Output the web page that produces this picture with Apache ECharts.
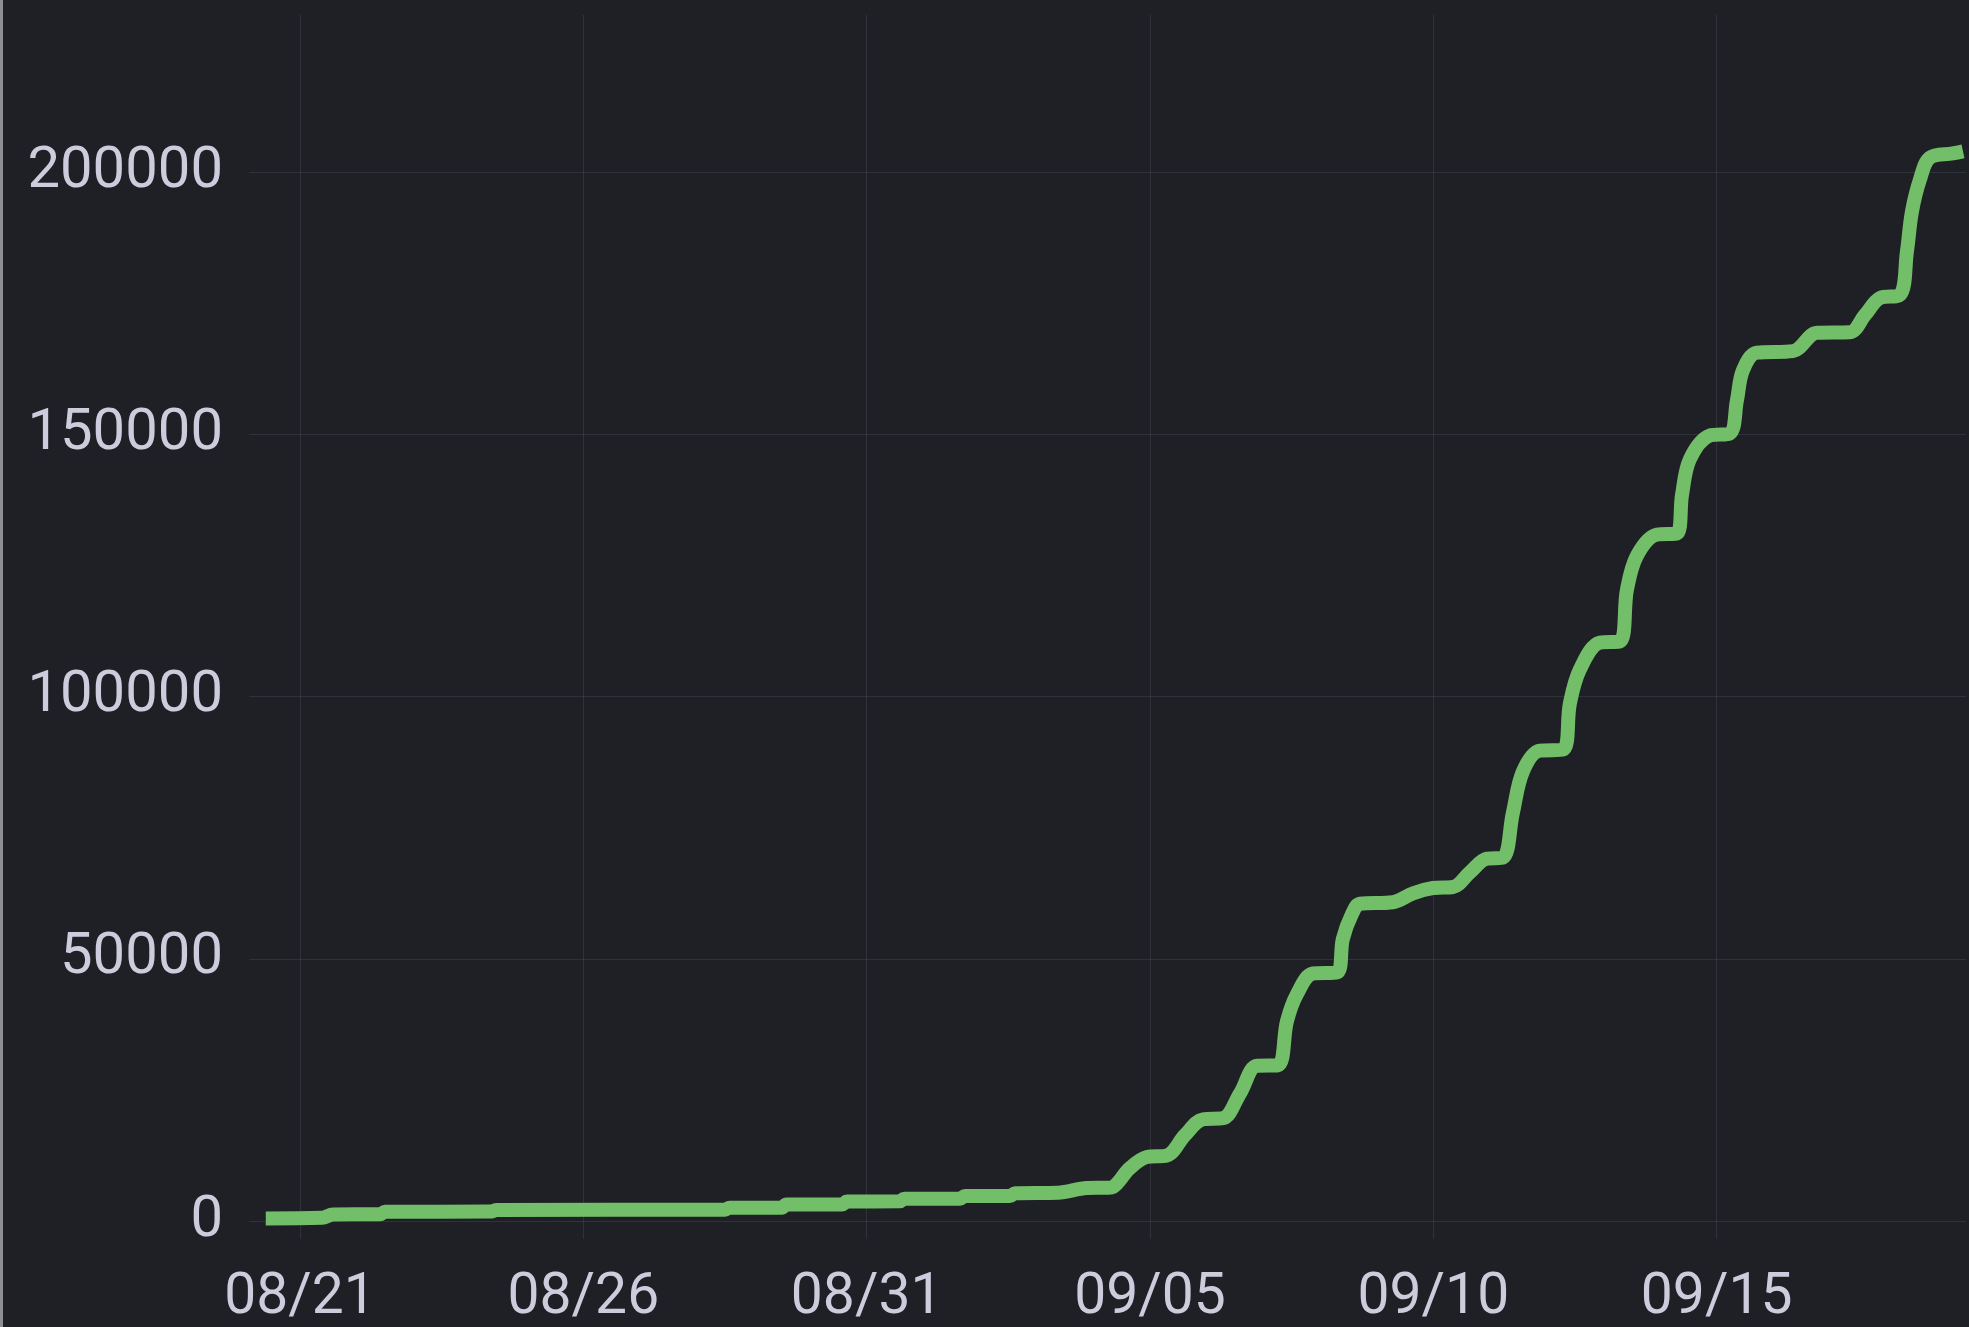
<!DOCTYPE html>
<html>
<head>
<meta charset="utf-8">
<style>
  html, body { margin: 0; padding: 0; background: #1e2026; }
  #chart { width: 1969px; height: 1327px; box-sizing: border-box; border-left: 3px solid #8d8f94; }
</style>
<script src="https://cdn.jsdelivr.net/npm/echarts@6/dist/echarts.min.js"></script>
</head>
<body>
<div id="chart"></div>
<script>
// Cumulative count over ~30 days (MM-DD HH:mm, UTC).
const times = [
  '08-20 09:30', '08-21 09:20', '08-21 14:00', '08-22 09:50', '08-22 12:00',
  '08-24 08:30', '08-24 11:25', '08-28 12:00', '08-28 14:00', '08-29 12:00',
  '08-29 14:00', '08-30 13:30', '08-30 15:40', '08-31 14:00', '08-31 16:00',
  '09-01 15:30', '09-01 17:40', '09-02 12:40', '09-02 14:50', '09-03 09:00',
  '09-03 21:20', '09-04 06:10', '09-04 08:20', '09-04 15:30', '09-04 22:40',
  '09-05 07:10', '09-05 14:50', '09-05 22:25', '09-06 06:55', '09-06 14:05',
  '09-06 21:20', '09-07 06:10', '09-07 10:00', '09-07 14:10', '09-07 21:00',
  '09-08 07:10', '09-08 09:40', '09-08 13:30', '09-08 16:55', '09-09 06:55',
  '09-09 15:25', '09-09 23:50', '09-10 08:20', '09-10 15:30', '09-10 22:40',
  '09-11 05:30', '09-11 09:40', '09-11 13:55', '09-11 21:05', '09-12 06:55',
  '09-12 09:50', '09-12 14:05', '09-12 22:35', '09-13 07:00', '09-13 10:00',
  '09-13 14:15', '09-13 22:40', '09-14 07:10', '09-14 09:20', '09-14 12:40',
  '09-14 21:05', '09-15 05:35', '09-15 08:35', '09-15 11:05', '09-15 17:00',
  '09-16 08:20', '09-16 18:30', '09-17 08:25', '09-17 14:50', '09-17 21:05',
  '09-18 05:35', '09-18 08:35', '09-18 10:40', '09-18 14:05', '09-18 18:20',
  '09-19 04:00', '09-19 08:20'
];
const counts = [
  500, 600, 1250, 1300, 1750,
  1800, 2100, 2150, 2550, 2550,
  3150, 3150, 3700, 3750, 4250,
  4250, 4750, 4750, 5300, 5400,
  6300, 6350, 6500, 10100, 12200,
  12500, 16400, 19400, 19600, 24300,
  29600, 29700, 38100, 43200, 47200,
  47400, 53800, 58500, 60500, 60800,
  62500, 63500, 63700, 66500, 69100,
  69300, 77800, 85700, 89700, 89900,
  98700, 105200, 110300, 110500, 120400,
  126900, 130900, 131100, 138500, 145300,
  149800, 150200, 156500, 162200, 165600,
  165900, 169400, 169500, 172800, 176000,
  176600, 184900, 192400, 198600, 202800,
  203600, 204000
];
const xTicks = ['08-21 00:00', '08-26 00:00', '08-31 00:00', '09-05 00:00', '09-10 00:00', '09-15 00:00'];
const xRange = ['08-20 02:24', '09-19 09:36'];
const yMax = 230000;
const yStep = 50000;

const YEAR = 2020;
function toTime(s) {
  const [md, hm] = s.split(' ');
  const [mo, d] = md.split('-').map(Number);
  const [h, mi] = hm.split(':').map(Number);
  return Date.UTC(YEAR, mo - 1, d, h, mi);
}
const pad = n => String(n).padStart(2, '0');

const TEXT = '#ccccdc';
const GRID = 'rgba(204,204,220,0.11)';
const FONT = 'Roboto';
const tickValues = xTicks.map(toTime);

const chart = echarts.init(document.getElementById('chart'));
chart.setOption({
  animation: false,
  backgroundColor: '#1e2026',
  grid: { left: 246, right: 3, top: 15, bottom: 96, containLabel: false },
  xAxis: {
    type: 'value',
    min: toTime(xRange[0]),
    max: toTime(xRange[1]),
    axisLine: { show: false },
    axisTick: {
      show: true, length: 18, customValues: tickValues,
      lineStyle: { color: GRID, width: 1 },
    },
    axisLabel: {
      customValues: tickValues,
      color: TEXT, fontFamily: FONT, fontSize: 57, margin: 49,
      formatter: v => { const d = new Date(v); return pad(d.getUTCMonth() + 1) + '/' + pad(d.getUTCDate()); },
    },
    splitLine: { show: true, lineStyle: { color: GRID, width: 1 } },
  },
  yAxis: {
    type: 'value',
    min: 0,
    max: yMax,
    interval: yStep,
    axisLine: { show: false },
    axisTick: { show: false },
    axisLabel: {
      color: TEXT, fontFamily: FONT, fontSize: 58, margin: 26, showMaxLabel: false,
      formatter: v => String(v),
    },
    splitLine: { show: true, showMaxLine: false, lineStyle: { color: GRID, width: 1 } },
  },
  series: [{
    type: 'line',
    data: times.map((t, i) => [toTime(t), counts[i]]),
    symbol: 'none',
    smooth: 0.35,
    lineStyle: { color: '#73bf69', width: 14, join: 'round', cap: 'butt' },
  }],
});
</script>
</body>
</html>
